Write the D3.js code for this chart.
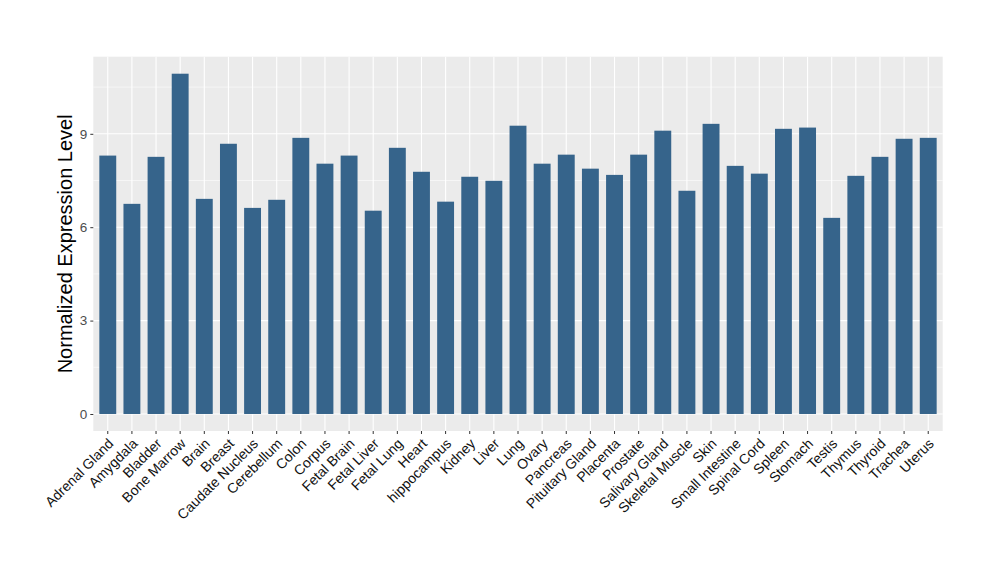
<!DOCTYPE html>
<html><head><meta charset="utf-8">
<script src="https://cdn.jsdelivr.net/npm/d3@7"></script>
<style>body{margin:0;background:#fff;} text{font-family:"Liberation Sans",Arial,sans-serif;}</style>
</head><body>
<svg id="c" width="1000" height="580"></svg>
<script>
const categories = ["Adrenal Gland","Amygdala","Bladder","Bone Marrow","Brain","Breast","Caudate Nucleus","Cerebellum","Colon","Corpus","Fetal Brain","Fetal Liver","Fetal Lung","Heart","hippocampus","Kidney","Liver","Lung","Ovary","Pancreas","Pituitary Gland","Placenta","Prostate","Salivary Gland","Skeletal Muscle","Skin","Small Intestine","Spinal Cord","Spleen","Stomach","Testis","Thymus","Thyroid","Trachea","Uterus"];
const values = [8.30,6.75,8.26,10.93,6.91,8.68,6.62,6.88,8.87,8.04,8.30,6.53,8.55,7.78,6.82,7.62,7.49,9.26,8.04,8.33,7.88,7.68,8.33,9.10,7.17,9.32,7.97,7.72,9.16,9.20,6.30,7.65,8.26,8.84,8.87];
const yTicks = [0,3,6,9];
const yMinor = [1.5,4.5,7.5,10.5];
const yTitle = "Normalized Expression Level";

const svg = d3.select("#c");
const L = 93.3, R = 942.7, T = 56.7, B = 431;
const maxV = d3.max(values);
const y = d3.scaleLinear().domain([-0.05*maxV, 1.05*maxV]).range([B, T]);
const n = categories.length;
const unit = (R - L) / (n - 1 + 1.2);
const x = d3.scaleBand().domain(categories).range([L + 0.1*unit, R - 0.1*unit]).paddingInner(0.3).paddingOuter(0.15);

svg.append("rect").attr("x", L).attr("y", T).attr("width", R - L).attr("height", B - T).attr("fill", "#EBEBEB");
svg.append("g").selectAll("line").data(yMinor).join("line")
  .attr("x1", L).attr("x2", R).attr("y1", d => y(d)).attr("y2", d => y(d))
  .attr("stroke", "#fff").attr("stroke-width", 0.55);
svg.append("g").selectAll("line").data(yTicks).join("line")
  .attr("x1", L).attr("x2", R).attr("y1", d => y(d)).attr("y2", d => y(d))
  .attr("stroke", "#fff").attr("stroke-width", 1.1);
svg.append("g").selectAll("line").data(categories).join("line")
  .attr("x1", d => x(d) + x.bandwidth()/2).attr("x2", d => x(d) + x.bandwidth()/2)
  .attr("y1", T).attr("y2", B).attr("stroke", "#fff").attr("stroke-width", 1.1);

svg.append("g").selectAll("rect").data(categories).join("rect")
  .attr("x", d => x(d)).attr("width", x.bandwidth())
  .attr("y", (d, i) => y(values[i])).attr("height", (d, i) => y(0) - y(values[i]))
  .attr("fill", "#36648B");

const yAxis = d3.axisLeft(y).tickValues(yTicks).tickSize(3).tickPadding(3).tickFormat(d3.format("d"));
const gy = svg.append("g").attr("transform", `translate(${L},0)`).call(yAxis);
gy.select(".domain").remove();
gy.selectAll(".tick line").attr("stroke", "#333").attr("stroke-width", 1);
gy.selectAll(".tick text").attr("fill", "#4D4D4D").attr("font-size", 13.5).attr("font-family", "Liberation Sans, Arial, sans-serif");

const xAxis = d3.axisBottom(x).tickSize(3).tickPadding(2);
const gx = svg.append("g").attr("transform", `translate(0,${B})`).call(xAxis);
gx.select(".domain").remove();
gx.selectAll(".tick line").attr("stroke", "#333").attr("stroke-width", 1);
gx.selectAll(".tick text").attr("fill", "#111").attr("font-size", 14)
  .attr("font-family", "Liberation Sans, Arial, sans-serif")
  .attr("text-anchor", "end").attr("dy", null).attr("y", 0)
  .attr("transform", "translate(6.5,13.5) rotate(-45)");

svg.append("text").attr("transform", `translate(72,${(T+B)/2}) rotate(-90)`)
  .attr("text-anchor", "middle").attr("font-size", 20).attr("fill", "#000").text(yTitle);
</script>
</body></html>
